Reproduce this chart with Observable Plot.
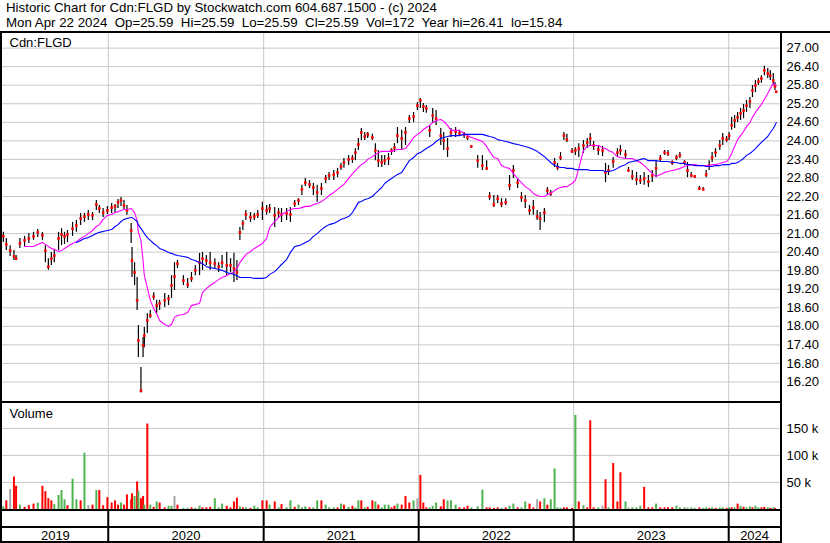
<!DOCTYPE html>
<html><head><meta charset="utf-8">
<script src="https://cdn.jsdelivr.net/npm/d3@7"></script>
<script src="https://cdn.jsdelivr.net/npm/@observablehq/plot@0.6"></script>
<style>
html,body{margin:0;padding:0;background:#fff;}
body{font-family:"Liberation Sans",Arial,sans-serif;}
#wrap{position:relative;width:830px;height:543px;overflow:hidden;background:#fff;}
.abs{position:absolute;}
#hdr{left:6px;top:0;font-size:13.3px;line-height:15px;white-space:pre;color:#000;}
.blk{position:absolute;background:#000;}
</style></head><body>
<div id="wrap">
  <div id="hdr" class="abs"></div>
  <div id="price" class="abs" style="left:0;top:33px"></div>
  <div id="vol" class="abs" style="left:0;top:403px"></div>
  <div id="years" class="abs" style="left:0;top:511px"></div>
  <div class="blk" style="left:0;top:31px;width:830px;height:2px"></div>
  <div class="blk" style="left:0;top:31px;width:2px;height:512px"></div>
  <div class="blk" style="left:780px;top:31px;width:2px;height:512px"></div>
  <div class="blk" style="left:0;top:401px;width:782px;height:2px"></div>
  <div class="blk" style="left:0;top:509px;width:782px;height:2px"></div>
  <div class="blk" style="left:0;top:526px;width:782px;height:2px"></div>
  <div class="blk" style="left:0;top:541px;width:782px;height:2px"></div>
</div>
<script>
const headerLines = [
  "Historic Chart for Cdn:FLGD by Stockwatch.com 604.687.1500 - (c) 2024",
  "Mon Apr 22 2024  Op=25.59  Hi=25.59  Lo=25.59  Cl=25.59  Vol=172  Year hi=26.41  lo=15.84"
];
const symbolLabel = "Cdn:FLGD";
const volumeLabel = "Volume";

const dates = [
"2019-04-29","2019-05-06","2019-05-15","2019-05-24","2019-05-29","2019-06-07","2019-06-18","2019-06-28","2019-07-09","2019-07-19",
"2019-07-30","2019-08-06","2019-08-13","2019-08-20","2019-08-27","2019-09-06","2019-09-13","2019-09-20","2019-09-27","2019-10-09",
"2019-10-18","2019-10-28","2019-11-06","2019-11-15","2019-11-25","2019-12-04","2019-12-11","2019-12-20","2019-12-30","2020-01-09",
"2020-01-17","2020-01-24","2020-01-31","2020-02-07","2020-02-14","2020-02-24","2020-02-26","2020-03-03","2020-03-09","2020-03-12",
"2020-03-18","2020-03-23","2020-03-26","2020-04-02","2020-04-09","2020-04-17","2020-04-24","2020-05-01","2020-05-13","2020-05-22",
"2020-05-29","2020-06-05","2020-06-12","2020-06-26","2020-07-06","2020-07-15","2020-07-24","2020-08-03","2020-08-10","2020-08-19",
"2020-08-28","2020-09-08","2020-09-17","2020-09-25","2020-10-06","2020-10-15","2020-10-23","2020-10-30","2020-11-06","2020-11-13",
"2020-11-20","2020-12-01","2020-12-10","2020-12-18","2020-12-29","2021-01-08","2021-01-15","2021-01-27","2021-02-05","2021-02-12",
"2021-02-24","2021-03-05","2021-03-15","2021-03-24","2021-04-01","2021-04-09","2021-04-19","2021-04-28","2021-05-07","2021-05-17",
"2021-05-27","2021-06-04","2021-06-15","2021-06-24","2021-07-02","2021-07-09","2021-07-20","2021-07-29","2021-08-05","2021-08-12",
"2021-08-19","2021-08-27","2021-09-03","2021-09-14","2021-09-21","2021-09-28","2021-10-06","2021-10-13","2021-10-22","2021-10-29",
"2021-11-05","2021-11-12","2021-11-22","2021-12-01","2021-12-10","2021-12-20","2021-12-29","2022-01-05","2022-01-12","2022-01-19",
"2022-01-27","2022-02-03","2022-02-11","2022-02-22","2022-03-01","2022-03-10","2022-03-18","2022-03-29","2022-04-07","2022-04-18",
"2022-04-26","2022-05-05","2022-05-20","2022-05-31","2022-06-10","2022-06-17","2022-06-27","2022-07-06","2022-07-15","2022-07-25",
"2022-08-03","2022-08-12","2022-08-22","2022-08-31","2022-09-09","2022-09-19","2022-09-28","2022-10-07","2022-10-14","2022-10-24",
"2022-10-31","2022-11-08","2022-11-17","2022-11-24","2022-12-01","2022-12-09","2022-12-16","2022-12-28","2023-01-05","2023-01-13",
"2023-01-24","2023-02-02","2023-02-09","2023-02-17","2023-02-28","2023-03-10","2023-03-17","2023-03-24","2023-04-04","2023-04-14",
"2023-04-21","2023-05-03","2023-05-10","2023-05-19","2023-05-29","2023-06-07","2023-06-16","2023-06-26","2023-07-05","2023-07-14",
"2023-07-24","2023-08-03","2023-08-11","2023-08-21","2023-08-31","2023-09-08","2023-09-19","2023-09-26","2023-10-05","2023-10-13",
"2023-10-24","2023-11-02","2023-11-09","2023-11-16","2023-11-23","2023-12-01","2023-12-11","2023-12-18","2023-12-27","2024-01-02",
"2024-01-08","2024-01-15","2024-01-22","2024-01-29","2024-02-05","2024-02-12","2024-02-20","2024-02-26","2024-03-04","2024-03-11",
"2024-03-18","2024-03-25","2024-04-02","2024-04-08","2024-04-15","2024-04-19","2024-04-22"];

const highs = [
21.04,20.84,20.61,20.45,20.29,20.84,20.91,21.00,21.04,21.13,
21.04,20.61,20.19,20.39,20.45,21.04,21.16,21.04,21.10,21.36,
21.42,21.65,21.65,21.75,21.68,22.07,21.91,21.81,21.88,21.97,
21.94,22.10,22.17,22.07,21.91,21.33,20.55,20.06,19.58,18.03,
16.67,17.64,17.96,18.41,18.51,19.09,18.84,18.84,19.06,19.00,
19.64,20.06,20.13,19.64,19.55,19.74,19.97,20.36,20.39,20.29,
20.39,20.19,20.06,20.29,20.39,20.19,20.36,20.13,21.20,21.42,
21.75,21.68,21.65,21.75,22.01,21.91,21.94,21.84,21.81,21.81,
21.81,21.84,22.07,22.13,22.56,22.78,22.72,22.62,22.56,22.62,
22.88,22.98,23.04,23.11,23.27,23.43,23.53,23.53,23.75,24.08,
24.40,24.27,24.27,24.21,23.91,23.69,23.53,23.53,23.59,23.75,
23.91,24.43,24.34,24.43,24.82,24.92,25.24,25.37,25.21,25.14,
24.50,25.05,24.98,24.40,24.27,24.08,24.40,24.43,24.34,24.27,
24.17,23.85,23.53,23.53,23.36,22.33,22.23,22.23,22.13,22.13,
22.88,23.20,22.78,22.33,22.23,21.91,22.07,21.75,21.68,21.81,
22.49,22.39,23.43,23.27,23.62,24.27,24.21,23.75,23.78,23.91,
24.01,24.08,24.24,23.98,23.85,23.82,23.27,23.20,23.46,23.75,
23.85,23.69,23.14,23.04,22.98,22.88,22.98,22.88,23.04,23.36,
23.53,23.69,23.69,23.36,23.53,23.62,23.36,23.30,22.98,22.88,
22.52,22.49,23.04,23.36,23.62,23.75,24.01,24.24,24.14,24.27,
24.76,24.82,24.92,25.05,25.18,25.31,25.40,25.79,25.95,26.02,
26.11,26.41,26.34,26.28,26.18,25.89,25.59];

const lows = [
20.71,20.45,20.26,20.13,20.13,20.52,20.58,20.68,20.78,20.87,
20.78,20.06,19.81,19.97,20.06,20.45,20.61,20.65,20.71,20.91,
21.04,21.26,21.36,21.42,21.42,21.75,21.65,21.52,21.62,21.65,
21.68,21.81,21.88,21.75,21.59,20.68,19.58,19.32,18.51,16.99,
15.84,16.99,17.31,17.77,18.25,18.84,18.41,18.51,18.61,18.67,
18.90,19.16,19.87,19.32,19.22,19.42,19.64,19.64,19.81,19.97,
19.81,19.87,19.74,19.87,19.64,19.74,19.42,19.48,20.78,21.10,
21.42,21.36,21.42,21.49,21.42,21.59,21.65,21.20,21.49,21.36,
21.42,21.36,21.84,21.91,22.23,22.52,22.46,22.23,22.01,22.23,
22.62,22.72,22.72,22.81,23.04,23.11,23.20,23.27,23.36,23.69,
24.01,24.01,24.08,24.01,23.36,23.14,23.14,23.20,23.20,23.53,
23.62,23.91,23.69,23.85,24.56,24.59,24.98,25.05,24.92,24.89,
24.11,24.56,24.50,23.85,23.69,23.46,24.11,24.11,24.14,24.08,
24.01,23.75,23.11,23.04,23.04,22.07,21.84,21.97,21.84,21.91,
22.39,22.78,22.46,22.01,21.81,21.59,21.59,21.42,21.10,21.36,
22.23,22.20,23.14,23.04,23.36,24.01,23.95,23.59,23.53,23.46,
23.59,23.75,23.82,23.69,23.53,23.49,22.65,22.88,23.11,23.46,
23.53,23.43,22.98,22.72,22.56,22.59,22.56,22.49,22.65,22.81,
23.30,23.53,23.49,23.20,23.36,23.43,23.20,22.81,22.81,22.78,
22.39,22.39,22.81,23.04,23.30,23.46,23.69,23.85,23.95,24.01,
24.34,24.40,24.59,24.66,24.72,24.92,25.05,25.40,25.56,25.79,
25.86,26.11,26.02,25.95,25.79,25.63,25.59];

const closes = [
20.91,20.65,20.45,20.26,20.19,20.68,20.78,20.84,20.91,21.04,
20.94,20.45,19.93,20.19,20.29,20.84,20.97,20.91,20.97,21.16,
21.26,21.49,21.55,21.62,21.59,21.94,21.81,21.68,21.75,21.84,
21.88,22.01,22.07,21.91,21.75,21.10,20.13,19.74,18.84,17.54,
15.92,17.38,17.70,18.19,18.35,18.96,18.67,18.74,18.84,18.90,
19.32,19.61,20.03,19.48,19.35,19.55,19.81,20.06,20.19,20.13,
20.06,20.03,19.93,20.06,19.97,19.97,19.87,19.74,21.04,21.33,
21.62,21.52,21.55,21.62,21.81,21.75,21.81,21.59,21.68,21.62,
21.65,21.62,21.97,22.07,22.43,22.65,22.59,22.49,22.33,22.46,
22.78,22.88,22.91,22.98,23.17,23.30,23.40,23.43,23.62,23.88,
24.27,24.14,24.21,24.11,23.69,23.36,23.30,23.36,23.43,23.69,
23.78,24.17,24.08,24.27,24.72,24.79,25.14,25.31,25.11,25.05,
24.34,24.82,24.72,24.17,24.01,23.75,24.27,24.30,24.24,24.21,
24.11,23.82,23.36,23.20,23.11,22.20,21.94,22.13,21.97,22.01,
22.56,23.04,22.65,22.17,22.07,21.75,21.84,21.55,21.49,21.68,
22.39,22.30,23.30,23.14,23.46,24.17,24.04,23.66,23.69,23.75,
23.85,23.95,24.08,23.85,23.72,23.69,22.98,23.04,23.33,23.62,
23.69,23.56,23.04,22.85,22.75,22.72,22.78,22.68,22.88,23.11,
23.43,23.62,23.59,23.30,23.46,23.53,23.30,23.04,22.88,22.85,
22.46,22.43,22.91,23.20,23.46,23.62,23.85,24.08,24.04,24.17,
24.50,24.66,24.76,24.89,24.98,25.14,25.27,25.63,25.79,25.92,
26.02,26.28,26.18,26.11,25.95,25.76,25.59];

const ma50 = [
null,null,null,null,null,null,20.58,20.58,20.58,20.65,
20.71,20.65,20.58,20.52,20.49,20.42,20.45,20.52,20.58,20.68,
20.74,20.84,20.91,21.00,21.10,21.23,21.29,21.46,21.59,21.62,
21.68,21.71,21.75,21.78,21.78,21.81,21.78,21.68,21.42,21.04,
20.78,20.13,19.64,19.26,18.84,18.58,18.41,18.19,18.06,18.00,
18.06,18.29,18.35,18.38,18.45,18.67,18.71,18.74,19.09,19.22,
19.32,19.42,19.51,19.58,19.64,19.71,19.77,19.87,20.06,20.19,
20.32,20.42,20.52,20.58,20.68,20.84,21.20,21.39,21.52,21.62,
21.71,21.78,21.81,21.81,21.84,21.88,21.88,21.94,21.97,22.04,
22.13,22.23,22.33,22.43,22.52,22.59,22.78,22.94,23.04,23.14,
23.23,23.30,23.40,23.49,23.56,23.62,23.66,23.66,23.66,23.66,
23.69,23.72,23.72,23.75,23.91,24.11,24.21,24.27,24.37,24.43,
24.50,24.59,24.66,24.69,24.63,24.50,24.34,24.34,24.34,24.24,
24.17,24.11,24.04,23.98,23.82,23.66,23.46,23.43,23.20,23.14,
23.11,22.94,22.78,22.65,22.52,22.43,22.30,22.23,22.20,22.20,
22.26,22.30,22.39,22.46,22.49,22.52,22.52,22.62,22.72,23.11,
23.69,23.82,23.85,23.85,23.85,23.78,23.75,23.69,23.62,23.49,
23.46,23.43,23.43,23.43,23.36,23.30,23.20,23.07,22.94,22.85,
22.91,22.98,23.01,23.04,23.07,23.11,23.17,23.20,23.23,23.23,
23.20,23.20,23.20,23.20,23.23,23.23,23.27,23.30,23.33,23.43,
23.59,23.82,24.04,24.17,24.30,24.46,24.59,24.76,24.92,25.05,
25.18,25.34,25.53,25.69,25.86,25.82,25.79];

const ma200 = [
null,null,null,null,null,null,null,null,null,null,
null,null,null,null,null,null,null,null,null,null,
20.71,20.78,20.84,20.87,20.94,21.00,21.04,21.07,21.10,21.13,
21.23,21.29,21.39,21.46,21.49,21.52,21.52,21.46,21.39,21.29,
21.16,21.07,21.00,20.87,20.78,20.68,20.61,20.52,20.45,20.39,
20.36,20.32,20.29,20.26,20.23,20.16,20.13,20.06,20.03,19.93,
19.90,19.87,19.84,19.81,19.74,19.71,19.68,19.64,19.58,19.58,
19.58,19.58,19.55,19.55,19.55,19.58,19.68,19.77,19.90,20.00,
20.16,20.39,20.58,20.61,20.65,20.71,20.78,20.91,21.00,21.13,
21.23,21.29,21.33,21.39,21.46,21.49,21.55,21.68,21.84,22.01,
22.04,22.10,22.13,22.20,22.30,22.39,22.49,22.62,22.72,22.78,
22.85,22.91,22.98,23.17,23.36,23.46,23.59,23.62,23.69,23.75,
23.82,23.88,23.98,24.08,24.11,24.14,24.17,24.17,24.17,24.21,
24.21,24.21,24.21,24.21,24.17,24.14,24.11,24.04,24.01,23.98,
23.95,23.91,23.88,23.85,23.82,23.78,23.72,23.66,23.59,23.49,
23.40,23.30,23.20,23.17,23.14,23.14,23.11,23.11,23.07,23.07,
23.07,23.07,23.04,23.04,23.04,23.04,23.01,23.01,23.04,23.11,
23.17,23.23,23.30,23.33,23.36,23.40,23.43,23.36,23.36,23.36,
23.33,23.33,23.33,23.30,23.30,23.27,23.27,23.23,23.23,23.20,
23.20,23.20,23.17,23.17,23.17,23.20,23.20,23.23,23.23,23.23,
23.27,23.27,23.30,23.36,23.43,23.53,23.59,23.66,23.75,23.85,
23.95,24.04,24.14,24.27,24.40,24.50,24.59];

// volume in thousands of shares
const volumes = [
5,16,37,60,43,8,4,7,10,12,
43,33,20,16,9,26,35,18,7,56,
18,16,104,7,8,35,35,7,22,12,
16,8,12,8,27,18,29,24,51,34,
20,24,8,158,8,4,14,12,3,6,
6,24,8,2,3,3,2,6,3,3,
4,20,3,10,6,3,14,21,5,3,
3,2,6,3,16,16,8,14,3,9,
3,16,4,8,3,5,3,3,16,16,
8,3,3,3,10,8,4,6,3,16,
16,3,4,16,14,8,3,8,8,3,
6,10,8,24,12,16,20,63,12,3,
3,6,12,5,18,16,16,8,3,3,
6,3,5,36,3,3,2,3,2,3,
6,10,3,3,14,10,3,18,14,20,
8,18,75,3,2,3,3,2,174,14,
7,3,164,3,3,6,55,3,85,14,
68,14,3,3,3,6,41,3,3,10,
3,3,3,3,6,3,3,3,3,2,
3,2,3,2,3,2,3,3,2,3,
3,3,10,6,4,3,5,3,6,3,
3,4,3,2,3,2,0.2];

// u = up day, d = down day, n = unchanged
const volDir = [
"u","d","n","d","d","u","d","d","d","u",
"d","d","d","d","u","u","u","u","d","u",
"u","d","u","n","d","u","d","d","d","d",
"d","d","u","d","d","d","d","u","d","u",
"d","d","u","d","u","d","u","d","d","u",
"u","n","d","u","n","d","u","u","d","d",
"d","u","u","u","d","d","d","d","u","d",
"u","d","u","u","d","d","u","d","u","d",
"u","u","d","u","u","u","d","u","u","d",
"u","u","u","d","u","d","u","d","u","u",
"d","u","d","d","u","d","u","u","u","d",
"d","u","d","d","d","u","n","d","d","d",
"u","u","u","d","d","u","u","u","d","d",
"d","u","u","u","d","d","d","d","u","d",
"u","u","d","u","u","d","d","n","d","u",
"d","u","u","u","u","d","d","d","u","d",
"u","d","d","d","u","n","d","u","d","d",
"d","u","n","u","u","u","d","d","d","u",
"d","d","d","d","u","u","u","n","u","u",
"d","u","u","d","u","d","u","u","d","u",
"d","u","d","u","d","u","u","d","u","u",
"d","d","u","d","u","d","d"];

const priceTicks = [16.2,16.8,17.4,18.0,18.6,19.2,19.8,20.4,21.0,21.6,22.2,22.8,23.4,24.0,24.6,25.2,25.8,26.4,27.0];
const priceDomain = [15.568, 27.473];
const volTicks = [50, 100, 150];
const volDomain = [0, 196];
const xDomain = ["2019-04-27", "2024-05-02"];
const yearStarts = ["2020-01-01","2021-01-01","2022-01-01","2023-01-01","2024-01-01"];
const years = ["2019","2020","2021","2022","2023","2024"];

const colors = {grid: "#c8c8c8", bar: "#000000", close: "#ff0000", ma50: "#ff00ff", ma200: "#0000ff", u: "#4fb34f", d: "#ff0000", n: "#a6a6a6"};

document.getElementById("hdr").textContent = headerLines.join("\n");

const parse = d3.utcParse("%Y-%m-%d");
const rows = dates.map((d, i) => ({
  date: parse(d), high: highs[i], low: lows[i], close: closes[i],
  ma50: ma50[i], ma200: ma200[i], vol: volumes[i], color: colors[volDir[i]]
}));
const xDom = xDomain.map(parse);
const ys = yearStarts.map(parse);
const bounds = [xDom[0], ...ys, xDom[1]];
const yearLabels = years.map((y, i) => ({year: y, mid: new Date((+bounds[i] + +bounds[i + 1]) / 2)}));

const font = "'Liberation Sans', Arial, sans-serif";
const common = {
  width: 830, marginLeft: 2, marginRight: 50, marginTop: 0, marginBottom: 0,
  style: {fontFamily: font, fontSize: "13px", color: "#000", background: "transparent", overflow: "visible"}
};

const price = Plot.plot({
  ...common, height: 368,
  x: {type: "utc", domain: xDom, axis: null},
  y: {domain: priceDomain, label: null},
  marks: [
    Plot.ruleY(priceTicks, {stroke: colors.grid}),
    Plot.ruleX(ys, {stroke: colors.grid}),
    Plot.ruleX(rows, {x: "date", y1: "low", y2: "high", stroke: colors.bar, strokeWidth: 1.2}),
    Plot.dot(rows, {x: "date", y: "close", symbol: "square", r: 1.45, fill: colors.close, stroke: null}),
    Plot.line(rows, {x: "date", y: "ma50", stroke: colors.ma50, strokeWidth: 1.1}),
    Plot.line(rows, {x: "date", y: "ma200", stroke: colors.ma200, strokeWidth: 1.1}),
    Plot.axisY(priceTicks, {anchor: "right", label: null, tickSize: 0, tickPadding: 6, tickFormat: d => d.toFixed(2), fontSize: 13, fill: "#000"}),
    Plot.text([symbolLabel], {frameAnchor: "top-left", dx: 7, dy: 4, lineAnchor: "top", textAnchor: "start", fontSize: 13, fill: "#000"})
  ]
});
document.getElementById("price").appendChild(price);

const vol = Plot.plot({
  ...common, height: 106,
  x: {type: "utc", domain: xDom, axis: null},
  y: {domain: volDomain, label: null},
  color: {type: "identity"},
  marks: [
    Plot.ruleY(volTicks, {stroke: colors.grid}),
    Plot.ruleX(ys, {stroke: colors.grid}),
    Plot.ruleX(rows, {x: "date", y1: 0, y2: "vol", stroke: "color", strokeWidth: 2}),
    Plot.axisY(volTicks, {anchor: "right", label: null, tickSize: 0, tickPadding: 6, tickFormat: d => d + " k", fontSize: 13, fill: "#000"}),
    Plot.text([volumeLabel], {frameAnchor: "top-left", dx: 7, dy: 5, lineAnchor: "top", textAnchor: "start", fontSize: 13, fill: "#000"})
  ]
});
document.getElementById("vol").appendChild(vol);

const yr = Plot.plot({
  ...common, height: 30,
  x: {type: "utc", domain: xDom, axis: null},
  marks: [
    Plot.ruleX(ys, {stroke: "#000", strokeWidth: 2}),
    Plot.text(yearLabels, {x: "mid", text: "year", frameAnchor: "bottom", dy: -6, lineAnchor: "middle", fontSize: 13, fill: "#000"})
  ]
});
document.getElementById("years").appendChild(yr);
</script>
</body></html>
